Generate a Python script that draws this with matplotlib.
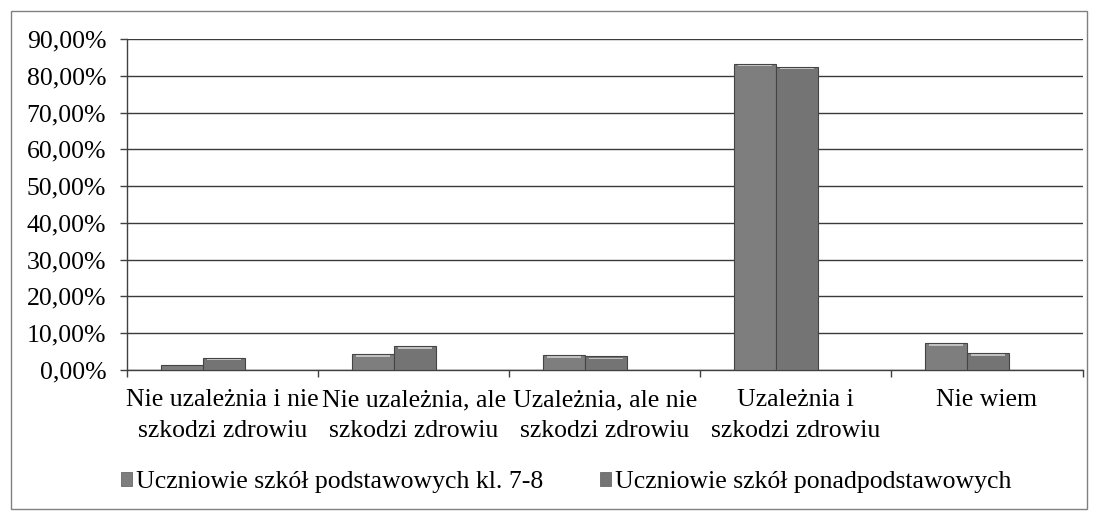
import numpy as np
import matplotlib
matplotlib.use('Agg')
import matplotlib.pyplot as plt
from matplotlib.patches import Rectangle, Patch
from matplotlib.ticker import FuncFormatter, MultipleLocator

# data (percent of answers)
categories = ['Nie uzależnia i nie\nszkodzi zdrowiu',
              'Nie uzależnia, ale\nszkodzi zdrowiu',
              'Uzależnia, ale nie\nszkodzi zdrowiu',
              'Uzależnia i\nszkodzi zdrowiu',
              'Nie wiem']
series_names = ['Uczniowie szkół podstawowych kl. 7-8',
                'Uczniowie szkół ponadpodstawowych']
podstawowe = [1.25, 4.2, 3.9, 83.4, 7.2]
ponadpodstawowe = [3.2, 6.4, 3.6, 82.5, 4.5]

plt.rcParams['font.family'] = ['Liberation Serif', 'DejaVu Serif']
plt.rcParams['font.size'] = 18.5

figw, figh = 1097.0, 512.0
fig = plt.figure(figsize=(figw/100, figh/100), dpi=100)

# outer frame
fig.patches.append(Rectangle((11/figw, 3/figh), 1076/figw, 498/figh,
                             transform=fig.transFigure, fill=False,
                             ec='#808080', lw=1.0))

ax = fig.add_axes([127/figw, 1-369.6/figh, 955.5/figw, 330.3/figh])

x = np.arange(len(categories))
w = 0.221
shift = -0.103
cols = ['#7e7e7e', '#747474']
for i, vals in enumerate([podstawowe, ponadpodstawowe]):
    xs = x + shift + (i - 0.5)*w
    vals = np.array(vals)
    ax.bar(xs, vals, width=w, color=cols[i], ec='#444444', lw=0.8, zorder=3)
    # bevel highlight near the top
    band = np.minimum(0.3*vals, 0.8)
    ax.bar(xs, band*0.5, bottom=vals - band*0.9, width=w*0.8,
           color='#c0c0c0', lw=0, zorder=4)

# axes styling
ax.set_xlim(-0.5, len(categories) - 0.5)
ax.set_ylim(0, 90)
ax.yaxis.set_major_locator(MultipleLocator(10))
ax.yaxis.set_major_formatter(FuncFormatter(lambda v, p: ('%.2f%%' % v).replace('.', ',')))
ax.set_xticks(x)
ax.set_xticklabels(categories, linespacing=1.5)
ax.set_xticks(np.arange(len(categories) + 1) - 0.5, minor=True)
ax.tick_params(axis='x', which='major', length=0, pad=14)
ax.tick_params(axis='x', which='minor', length=5, width=1, color='#404040')
ax.tick_params(axis='y', length=5, width=1, color='#404040', pad=10)
ax.yaxis.grid(True, color='#3a3a3a', lw=1.0, zorder=1)
ax.set_axisbelow(True)
for s in ['top', 'right']:
    ax.spines[s].set_visible(False)
for s in ['left', 'bottom']:
    ax.spines[s].set_color('#404040')
    ax.spines[s].set_linewidth(1.0)

# legend
handles = [Patch(fc=cols[i], ec='#6a6a6a', lw=0.6) for i in range(2)]
fig.legend(handles, series_names, loc='center', ncol=2, frameon=False,
           bbox_to_anchor=(566/figw, 1-482/figh), handlelength=0.45,
           handleheight=0.45, handletextpad=0.15, columnspacing=2.2)

fig.savefig('out.png', dpi=100)
